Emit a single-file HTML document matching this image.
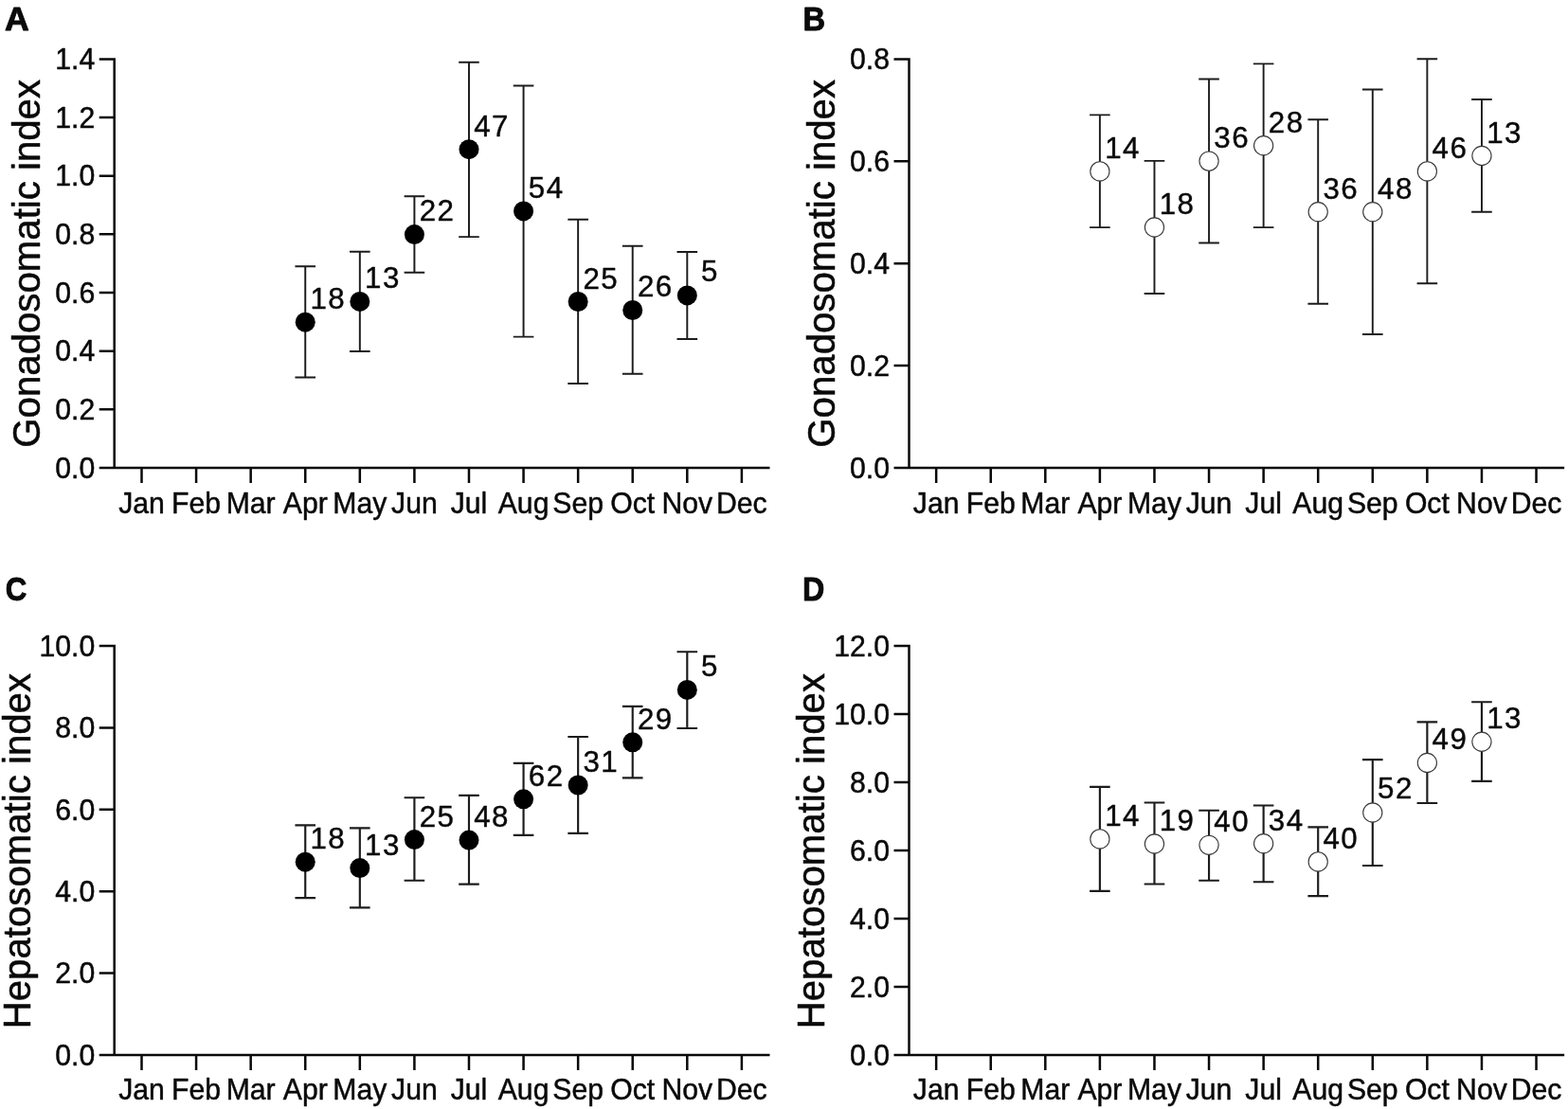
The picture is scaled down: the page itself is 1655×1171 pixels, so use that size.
<!DOCTYPE html>
<html lang="en">
<head>
<meta charset="utf-8">
<title>Gonadosomatic and hepatosomatic index by month</title>
<style>
html,body{margin:0;padding:0;background:#fff;}
body{width:1655px;height:1171px;overflow:hidden;}
svg{display:block;}
text{font-family:"Liberation Sans",sans-serif;fill:#0a0a0a;stroke:#000;stroke-width:0.45px;stroke-linejoin:round;}
.ax{stroke:#0a0a0a;stroke-width:2.5;fill:none;}
.eb{stroke:#1c1c1c;fill:none;}
.pf{fill:#000;stroke:none;}
.po{fill:#fff;stroke:#383838;stroke-width:1.1;}
.yl{font-size:30.2px;text-anchor:end;}
.xl{font-size:30.2px;text-anchor:middle;}
.n{font-size:31.3px;text-anchor:middle;letter-spacing:1.5px;stroke-width:0.4px;}
.ti{font-size:40.2px;text-anchor:middle;stroke-width:0.5px;}
.pl{font-size:34px;font-weight:bold;stroke-width:0.8px;}
</style>
</head>
<body>
<svg width="1655" height="1171" viewBox="0 0 1655 1171">
<rect x="0" y="0" width="1655" height="1171" fill="#ffffff"/>
<g>
<text class="pl" transform="translate(5 32.4) scale(1.05 1.015)">A</text>
<text class="ti" transform="translate(42 278.3) rotate(-90) scale(1 1.03)">Gonadosomatic index</text>
<path class="ax" d="M120.7 62.4V494H812.48M104.7 494H120.7M104.7 432.34H120.7M104.7 370.69H120.7M104.7 309.03H120.7M104.7 247.37H120.7M104.7 185.71H120.7M104.7 124.06H120.7M104.7 62.4H121.95M149.5 494V510.1M207.08 494V510.1M264.66 494V510.1M322.24 494V510.1M379.82 494V510.1M437.4 494V510.1M494.98 494V510.1M552.56 494V510.1M610.14 494V510.1M667.72 494V510.1M725.3 494V510.1M782.88 494V510.1"/>
<text class="yl" transform="translate(100.2 504.6) scale(1 1.02)">0.0</text>
<text class="yl" transform="translate(100.2 442.94) scale(1 1.02)">0.2</text>
<text class="yl" transform="translate(100.2 381.29) scale(1 1.02)">0.4</text>
<text class="yl" transform="translate(100.2 319.63) scale(1 1.02)">0.6</text>
<text class="yl" transform="translate(100.2 257.97) scale(1 1.02)">0.8</text>
<text class="yl" transform="translate(100.2 196.31) scale(1 1.02)">1.0</text>
<text class="yl" transform="translate(100.2 134.66) scale(1 1.02)">1.2</text>
<text class="yl" transform="translate(100.2 73) scale(1 1.02)">1.4</text>
<text class="xl" transform="translate(149.5 542.1) scale(1 1.04)">Jan</text>
<text class="xl" transform="translate(207.08 542.1) scale(1 1.04)">Feb</text>
<text class="xl" transform="translate(264.66 542.1) scale(1 1.04)">Mar</text>
<text class="xl" transform="translate(322.24 542.1) scale(1 1.04)">Apr</text>
<text class="xl" transform="translate(379.82 542.1) scale(1 1.04)">May</text>
<text class="xl" transform="translate(437.4 542.1) scale(1 1.04)">Jun</text>
<text class="xl" transform="translate(494.98 542.1) scale(1 1.04)">Jul</text>
<text class="xl" transform="translate(552.56 542.1) scale(1 1.04)">Aug</text>
<text class="xl" transform="translate(610.14 542.1) scale(1 1.04)">Sep</text>
<text class="xl" transform="translate(667.72 542.1) scale(1 1.04)">Oct</text>
<text class="xl" transform="translate(725.3 542.1) scale(1 1.04)">Nov</text>
<text class="xl" transform="translate(782.88 542.1) scale(1 1.04)">Dec</text>
<path class="eb" stroke-width="1.95" d="M322.24 281.3V398.4M311.44 281.3H333.04M311.44 398.4H333.04M379.82 265.7V371M369.02 265.7H390.62M369.02 371H390.62M437.4 207.3V287.8M426.6 207.3H448.2M426.6 287.8H448.2M494.98 65.7V250.1M484.18 65.7H505.78M484.18 250.1H505.78M552.56 90.4V355.6M541.76 90.4H563.36M541.76 355.6H563.36M610.14 231.8V404.9M599.34 231.8H620.94M599.34 404.9H620.94M667.72 259.7V394.8M656.92 259.7H678.52M656.92 394.8H678.52M725.3 266V357.9M714.5 266H736.1M714.5 357.9H736.1"/>
<circle class="pf" cx="322.24" cy="340.2" r="10.5"/><text class="n" x="346.39" y="325.5">18</text>
<circle class="pf" cx="379.82" cy="318.4" r="10.5"/><text class="n" x="403.97" y="304.4">13</text>
<circle class="pf" cx="437.4" cy="247.6" r="10.5"/><text class="n" x="461.55" y="233.1">22</text>
<circle class="pf" cx="494.98" cy="157.7" r="10.5"/><text class="n" x="519.13" y="143.7">47</text>
<circle class="pf" cx="552.56" cy="222.9" r="10.5"/><text class="n" x="576.71" y="208.9">54</text>
<circle class="pf" cx="610.14" cy="318.5" r="10.5"/><text class="n" x="634.29" y="304.5">25</text>
<circle class="pf" cx="667.72" cy="327.5" r="10.5"/><text class="n" x="691.87" y="313.1">26</text>
<circle class="pf" cx="725.3" cy="311.9" r="10.5"/><text class="n" x="749.45" y="297.4">5</text>
</g>
<g>
<text class="pl" transform="translate(847.5 32) scale(0.96 1.015)">B</text>
<text class="ti" transform="translate(880.6 278.3) rotate(-90) scale(1 1.03)">Gonadosomatic index</text>
<path class="ax" d="M959.5 62.4V494H1651.13M943.5 494H959.5M943.5 386.1H959.5M943.5 278.2H959.5M943.5 170.3H959.5M943.5 62.4H960.75M988.15 494V510.1M1045.73 494V510.1M1103.31 494V510.1M1160.89 494V510.1M1218.47 494V510.1M1276.05 494V510.1M1333.63 494V510.1M1391.21 494V510.1M1448.79 494V510.1M1506.37 494V510.1M1563.95 494V510.1M1621.53 494V510.1"/>
<text class="yl" transform="translate(939 504.6) scale(1 1.02)">0.0</text>
<text class="yl" transform="translate(939 396.7) scale(1 1.02)">0.2</text>
<text class="yl" transform="translate(939 288.8) scale(1 1.02)">0.4</text>
<text class="yl" transform="translate(939 180.9) scale(1 1.02)">0.6</text>
<text class="yl" transform="translate(939 73) scale(1 1.02)">0.8</text>
<text class="xl" transform="translate(988.15 542.1) scale(1 1.04)">Jan</text>
<text class="xl" transform="translate(1045.73 542.1) scale(1 1.04)">Feb</text>
<text class="xl" transform="translate(1103.31 542.1) scale(1 1.04)">Mar</text>
<text class="xl" transform="translate(1160.89 542.1) scale(1 1.04)">Apr</text>
<text class="xl" transform="translate(1218.47 542.1) scale(1 1.04)">May</text>
<text class="xl" transform="translate(1276.05 542.1) scale(1 1.04)">Jun</text>
<text class="xl" transform="translate(1333.63 542.1) scale(1 1.04)">Jul</text>
<text class="xl" transform="translate(1391.21 542.1) scale(1 1.04)">Aug</text>
<text class="xl" transform="translate(1448.79 542.1) scale(1 1.04)">Sep</text>
<text class="xl" transform="translate(1506.37 542.1) scale(1 1.04)">Oct</text>
<text class="xl" transform="translate(1563.95 542.1) scale(1 1.04)">Nov</text>
<text class="xl" transform="translate(1621.53 542.1) scale(1 1.04)">Dec</text>
<path class="eb" stroke-width="1.9" d="M1160.89 121.4V240.1M1150.09 121.4H1171.69M1150.09 240.1H1171.69M1218.47 169.9V310M1207.67 169.9H1229.27M1207.67 310H1229.27M1276.05 83.5V256.5M1265.25 83.5H1286.85M1265.25 256.5H1286.85M1333.63 67.4V240.1M1322.83 67.4H1344.43M1322.83 240.1H1344.43M1391.21 126.3V320.7M1380.41 126.3H1402.01M1380.41 320.7H1402.01M1448.79 94.5V353M1437.99 94.5H1459.59M1437.99 353H1459.59M1506.37 62.3V299.2M1495.57 62.3H1517.17M1495.57 299.2H1517.17M1563.95 105V223.7M1553.15 105H1574.75M1553.15 223.7H1574.75"/>
<circle class="po" cx="1160.89" cy="180.9" r="10.1"/><text class="n" x="1185.04" y="166.9">14</text>
<circle class="po" cx="1218.47" cy="240" r="10.1"/><text class="n" x="1242.62" y="226">18</text>
<circle class="po" cx="1276.05" cy="170.1" r="10.1"/><text class="n" x="1300.2" y="156.1">36</text>
<circle class="po" cx="1333.63" cy="153.7" r="10.1"/><text class="n" x="1357.78" y="139.7">28</text>
<circle class="po" cx="1391.21" cy="223.7" r="10.1"/><text class="n" x="1415.36" y="209.7">36</text>
<circle class="po" cx="1448.79" cy="223.7" r="10.1"/><text class="n" x="1472.94" y="209.7">48</text>
<circle class="po" cx="1506.37" cy="180.9" r="10.1"/><text class="n" x="1530.52" y="166.9">46</text>
<circle class="po" cx="1563.95" cy="164.5" r="10.1"/><text class="n" x="1588.1" y="150.5">13</text>
</g>
<g>
<text class="pl" transform="translate(5.8 634.2) scale(0.92 1.015)">C</text>
<text class="ti" transform="translate(32.3 898.63) rotate(-90) scale(1 1.03)">Hepatosomatic index</text>
<path class="ax" d="M120.7 682.1V1113.95H812.48M104.7 1113.95H120.7M104.7 1027.58H120.7M104.7 941.21H120.7M104.7 854.84H120.7M104.7 768.47H120.7M104.7 682.1H121.95M149.5 1113.95V1130.05M207.08 1113.95V1130.05M264.66 1113.95V1130.05M322.24 1113.95V1130.05M379.82 1113.95V1130.05M437.4 1113.95V1130.05M494.98 1113.95V1130.05M552.56 1113.95V1130.05M610.14 1113.95V1130.05M667.72 1113.95V1130.05M725.3 1113.95V1130.05M782.88 1113.95V1130.05"/>
<text class="yl" transform="translate(100.2 1124.65) scale(1 1.02)">0.0</text>
<text class="yl" transform="translate(100.2 1038.28) scale(1 1.02)">2.0</text>
<text class="yl" transform="translate(100.2 951.91) scale(1 1.02)">4.0</text>
<text class="yl" transform="translate(100.2 865.54) scale(1 1.02)">6.0</text>
<text class="yl" transform="translate(100.2 779.17) scale(1 1.02)">8.0</text>
<text class="yl" transform="translate(100.2 692.8) scale(1 1.02)">10.0</text>
<text class="xl" transform="translate(149.5 1161.1) scale(1 1.04)">Jan</text>
<text class="xl" transform="translate(207.08 1161.1) scale(1 1.04)">Feb</text>
<text class="xl" transform="translate(264.66 1161.1) scale(1 1.04)">Mar</text>
<text class="xl" transform="translate(322.24 1161.1) scale(1 1.04)">Apr</text>
<text class="xl" transform="translate(379.82 1161.1) scale(1 1.04)">May</text>
<text class="xl" transform="translate(437.4 1161.1) scale(1 1.04)">Jun</text>
<text class="xl" transform="translate(494.98 1161.1) scale(1 1.04)">Jul</text>
<text class="xl" transform="translate(552.56 1161.1) scale(1 1.04)">Aug</text>
<text class="xl" transform="translate(610.14 1161.1) scale(1 1.04)">Sep</text>
<text class="xl" transform="translate(667.72 1161.1) scale(1 1.04)">Oct</text>
<text class="xl" transform="translate(725.3 1161.1) scale(1 1.04)">Nov</text>
<text class="xl" transform="translate(782.88 1161.1) scale(1 1.04)">Dec</text>
<path class="eb" stroke-width="2.15" d="M322.24 871.3V948.1M311.44 871.3H333.04M311.44 948.1H333.04M379.82 874.4V958.4M369.02 874.4H390.62M369.02 958.4H390.62M437.4 842.2V929.7M426.6 842.2H448.2M426.6 929.7H448.2M494.98 839.9V933.6M484.18 839.9H505.78M484.18 933.6H505.78M552.56 805.8V881.8M541.76 805.8H563.36M541.76 881.8H563.36M610.14 778V879.8M599.34 778H620.94M599.34 879.8H620.94M667.72 745.8V821.4M656.92 745.8H678.52M656.92 821.4H678.52M725.3 688.2V769M714.5 688.2H736.1M714.5 769H736.1"/>
<circle class="pf" cx="322.24" cy="910.2" r="10.5"/><text class="n" x="346.39" y="896.2">18</text>
<circle class="pf" cx="379.82" cy="916.6" r="10.5"/><text class="n" x="403.97" y="902.6">13</text>
<circle class="pf" cx="437.4" cy="886.6" r="10.5"/><text class="n" x="461.55" y="872.6">25</text>
<circle class="pf" cx="494.98" cy="887.1" r="10.5"/><text class="n" x="519.13" y="873.1">48</text>
<circle class="pf" cx="552.56" cy="843.8" r="10.5"/><text class="n" x="576.71" y="829.8">62</text>
<circle class="pf" cx="610.14" cy="829" r="10.5"/><text class="n" x="634.29" y="815">31</text>
<circle class="pf" cx="667.72" cy="783.8" r="10.5"/><text class="n" x="691.87" y="769.8">29</text>
<circle class="pf" cx="725.3" cy="728.4" r="10.5"/><text class="n" x="749.45" y="714.4">5</text>
</g>
<g>
<text class="pl" transform="translate(847 634.2) scale(0.95 1.015)">D</text>
<text class="ti" transform="translate(870.4 898.63) rotate(-90) scale(1 1.03)">Hepatosomatic index</text>
<path class="ax" d="M959.5 682.1V1113.95H1651.13M943.5 1113.95H959.5M943.5 1041.98H959.5M943.5 970H959.5M943.5 898.02H959.5M943.5 826.05H959.5M943.5 754.08H959.5M943.5 682.1H960.75M988.15 1113.95V1130.05M1045.73 1113.95V1130.05M1103.31 1113.95V1130.05M1160.89 1113.95V1130.05M1218.47 1113.95V1130.05M1276.05 1113.95V1130.05M1333.63 1113.95V1130.05M1391.21 1113.95V1130.05M1448.79 1113.95V1130.05M1506.37 1113.95V1130.05M1563.95 1113.95V1130.05M1621.53 1113.95V1130.05"/>
<text class="yl" transform="translate(939 1124.65) scale(1 1.02)">0.0</text>
<text class="yl" transform="translate(939 1052.68) scale(1 1.02)">2.0</text>
<text class="yl" transform="translate(939 980.7) scale(1 1.02)">4.0</text>
<text class="yl" transform="translate(939 908.73) scale(1 1.02)">6.0</text>
<text class="yl" transform="translate(939 836.75) scale(1 1.02)">8.0</text>
<text class="yl" transform="translate(939 764.78) scale(1 1.02)">10.0</text>
<text class="yl" transform="translate(939 692.8) scale(1 1.02)">12.0</text>
<text class="xl" transform="translate(988.15 1161.1) scale(1 1.04)">Jan</text>
<text class="xl" transform="translate(1045.73 1161.1) scale(1 1.04)">Feb</text>
<text class="xl" transform="translate(1103.31 1161.1) scale(1 1.04)">Mar</text>
<text class="xl" transform="translate(1160.89 1161.1) scale(1 1.04)">Apr</text>
<text class="xl" transform="translate(1218.47 1161.1) scale(1 1.04)">May</text>
<text class="xl" transform="translate(1276.05 1161.1) scale(1 1.04)">Jun</text>
<text class="xl" transform="translate(1333.63 1161.1) scale(1 1.04)">Jul</text>
<text class="xl" transform="translate(1391.21 1161.1) scale(1 1.04)">Aug</text>
<text class="xl" transform="translate(1448.79 1161.1) scale(1 1.04)">Sep</text>
<text class="xl" transform="translate(1506.37 1161.1) scale(1 1.04)">Oct</text>
<text class="xl" transform="translate(1563.95 1161.1) scale(1 1.04)">Nov</text>
<text class="xl" transform="translate(1621.53 1161.1) scale(1 1.04)">Dec</text>
<path class="eb" stroke-width="2.15" d="M1160.89 830.8V940.9M1150.09 830.8H1171.69M1150.09 940.9H1171.69M1218.47 847.5V933.5M1207.67 847.5H1229.27M1207.67 933.5H1229.27M1276.05 855.7V929.7M1265.25 855.7H1286.85M1265.25 929.7H1286.85M1333.63 850.5V931.2M1322.83 850.5H1344.43M1322.83 931.2H1344.43M1391.21 873.3V946.1M1380.41 873.3H1402.01M1380.41 946.1H1402.01M1448.79 802.1V914M1437.99 802.1H1459.59M1437.99 914H1459.59M1506.37 762.4V848M1495.57 762.4H1517.17M1495.57 848H1517.17M1563.95 741.2V824.9M1553.15 741.2H1574.75M1553.15 824.9H1574.75"/>
<circle class="po" cx="1160.89" cy="885.9" r="10.1"/><text class="n" x="1185.04" y="871.9">14</text>
<circle class="po" cx="1218.47" cy="891" r="10.1"/><text class="n" x="1242.62" y="877">19</text>
<circle class="po" cx="1276.05" cy="892.3" r="10.1"/><text class="n" x="1300.2" y="878.3">40</text>
<circle class="po" cx="1333.63" cy="890.7" r="10.1"/><text class="n" x="1357.78" y="876.7">34</text>
<circle class="po" cx="1391.21" cy="909.9" r="10.1"/><text class="n" x="1415.36" y="895.9">40</text>
<circle class="po" cx="1448.79" cy="858" r="10.1"/><text class="n" x="1472.94" y="843">52</text>
<circle class="po" cx="1506.37" cy="805.5" r="10.1"/><text class="n" x="1530.52" y="791.1">49</text>
<circle class="po" cx="1563.95" cy="783.2" r="10.1"/><text class="n" x="1588.1" y="769.2">13</text>
</g>
</svg>
</body>
</html>
